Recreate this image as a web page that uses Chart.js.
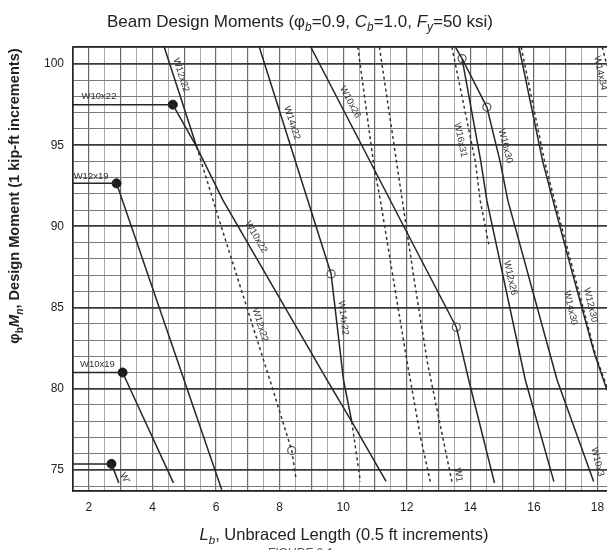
<!DOCTYPE html>
<html>
<head>
<meta charset="utf-8">
<script src="https://cdn.jsdelivr.net/npm/chart.js@4.4.1/dist/chart.umd.min.js"></script>
<style>
  body { margin: 0; background: #fff; }
  #chart { display: block; }
</style>
</head>
<body>
<canvas id="chart" width="607" height="550"></canvas>
<script>
// points are [Lb (ft), phiMn (kip-ft)]
const lbTicks = [2, 4, 6, 8, 10, 12, 14, 16, 18];
const momentTicks = [75, 80, 85, 90, 95, 100];

// leaders from the axis to the Lp dots
const W10x22_lead = [[1.5, 97.5], [4.64, 97.5]];
const W12x19_lead = [[1.5, 92.65], [2.87, 92.65]];
const W10x19_lead = [[1.5, 81.0], [3.06, 81.0]];
const W8_lead = [[1.5, 75.37], [2.71, 75.37]];

// solid (lightest section) parts
const W10x22 = [[4.64, 97.5], [5.39, 94.9], [6.22, 91.6], [9.49, 80.54], [10.27, 77.97], [11.35, 74.3]];
const W12x22_top = [[4.37, 101.05], [5.39, 94.9]];
const W12x19 = [[2.87, 92.65], [6.18, 73.77]];
const W10x19 = [[3.06, 81.0], [4.66, 74.2]];
const W8 = [[2.71, 75.37], [2.94, 74.2]];
const W14x22_top = [[7.36, 101.05], [9.62, 87.07], [10.01, 80.54], [10.27, 77.97]];
const W10x26 = [[8.98, 101.05], [11.88, 90.1], [13.56, 83.79], [13.95, 80.54], [14.76, 74.2]];
const W10x30 = [[13.53, 101.05], [13.74, 100.34], [14.52, 97.35], [14.94, 93.97], [15.18, 91.6], [16.73, 80.54], [17.88, 74.28]];
const W12x26 = [[13.74, 100.34], [14.33, 94.0], [14.52, 91.6], [15.73, 80.54], [16.63, 74.28]];
const W14x30 = [[15.53, 101.05], [16.28, 93.97], [16.6, 91.6], [17.2, 87.2], [17.9, 82.2], [18.3, 79.9]];

// dashed parts
const W12x22_low = [[5.39, 94.9], [6.13, 90.2], [7.7, 80.5], [8.38, 76.2], [8.52, 74.4]];
const W14x22_low = [[10.27, 77.97], [10.54, 74.28]];
const dashA = [[10.46, 101.05], [10.97, 93.7], [11.17, 91.6], [11.6, 86.5], [12.0, 81.77], [12.43, 77.05], [12.74, 74.28]];
const dashB = [[11.14, 101.05], [11.86, 91.6], [12.25, 86.5], [12.66, 81.5], [13.42, 74.28]];
const W16x31 = [[13.42, 101.05], [14.16, 93.97], [14.31, 91.6], [14.58, 88.9]];
const W12x30 = [[15.6, 101.05], [16.34, 93.97], [16.65, 91.6], [17.25, 87.2], [17.95, 82.0], [18.3, 80.1]];
const W14x34 = [[18.15, 101.05], [18.3, 99.9]];

// Lp (filled) and Lr (open) markers
const lpPoints = [[4.64, 97.5], [2.87, 92.65], [3.06, 81.0], [2.71, 75.37]];
const lrPoints = [[8.38, 76.2], [9.62, 87.07], [13.56, 83.79], [13.74, 100.34], [14.52, 97.35]];

// section labels: text, Lb, phiMn, angle (deg)
const curveLabels = [
  ['W10x22', 1.77, 98.0, 0],
  ['W12x19', 1.52, 93.06, 0],
  ['W10x19', 1.72, 81.47, 0],
  ['W12x22', 4.9, 99.32, 72],
  ['W14x22', 8.39, 96.37, 72],
  ['W10x26', 10.22, 97.66, 62],
  ['W16x31', 13.69, 95.32, 78],
  ['W10x30', 15.1, 94.95, 76],
  ['W14x34', 18.09, 99.45, 78],
  ['W10x22', 7.26, 89.35, 60],
  ['W12x22', 7.39, 83.93, 73],
  ['W14x22', 10.0, 84.36, 83],
  ['W12x26', 15.26, 86.82, 77],
  ['W14x30', 17.15, 84.98, 77],
  ['W12x30', 17.78, 85.16, 77],
  ['W10x3', 18.0, 75.49, 76],
  ['W1', 13.62, 74.69, 80],
  ['W\'', 3.13, 74.5, 60]
];

const LB_MIN = 1.5, LB_MAX = 18.3;
const M_MIN = 73.7, M_MAX = 101.05;

const FONT = '"Liberation Sans", Arial, sans-serif';
const isMult = (v, m) => Math.abs(v / m - Math.round(v / m)) < 1e-6;

function solid(data) {
  return { data, showLine: true, borderColor: '#262626', borderWidth: 1.5, pointRadius: 0, fill: false };
}
function dashed(data) {
  return { data, showLine: true, borderColor: '#333', borderWidth: 1.5, borderDash: [3, 3], pointRadius: 0, fill: false };
}

// grid every 0.5 ft and every 1 kip-ft
function xGridTicks() {
  const t = [];
  for (let v = LB_MIN; v <= LB_MAX + 1e-9; v += 0.5) t.push({ value: Math.round(v * 2) / 2 });
  t.push({ value: LB_MAX });
  return t;
}
function yGridTicks() {
  const t = [{ value: M_MIN }];
  for (let v = Math.ceil(M_MIN); v <= M_MAX; v += 1) t.push({ value: v });
  t.push({ value: M_MAX });
  return t;
}

// draw a run of text pieces: [text, italic, sub]
function drawRich(ctx, parts, x, y, size, weight, align) {
  const fontOf = (p) => (p[1] ? 'italic ' : '') + weight + ' ' + (p[2] ? size * 0.7 : size) + 'px ' + FONT;
  let total = 0;
  parts.forEach(p => { ctx.font = fontOf(p); total += ctx.measureText(p[0]).width; });
  let cx = align === 'center' ? x - total / 2 : x;
  ctx.textAlign = 'left';
  ctx.textBaseline = 'alphabetic';
  parts.forEach(p => {
    ctx.font = fontOf(p);
    ctx.fillText(p[0], cx, p[2] ? y + size * 0.25 : y);
    cx += ctx.measureText(p[0]).width;
  });
}

const textPlugin = {
  id: 'textPlugin',
  afterDraw(chart) {
    const ctx = chart.ctx;
    const xs = chart.scales.x, ys = chart.scales.y;
    ctx.save();
    ctx.fillStyle = '#222';

    // title
    drawRich(ctx, [['Beam Design Moments (\u03c6', 0, 0], ['b', 1, 1], ['=0.9, ', 0, 0], ['C', 1, 0], ['b', 1, 1],
      ['=1.0, ', 0, 0], ['F', 1, 0], ['y', 1, 1], ['=50 ksi)', 0, 0]], 300, 27, 17, 'normal', 'center');

    // x title
    drawRich(ctx, [['L', 1, 0], ['b', 1, 1], [', Unbraced Length (0.5 ft increments)', 0, 0]], 344, 540, 16.5, 'normal', 'center');

    // y title
    ctx.save();
    ctx.translate(19, 196);
    ctx.rotate(-Math.PI / 2);
    drawRich(ctx, [['\u03c6', 0, 0], ['b', 0, 1], ['M', 1, 0], ['n', 1, 1], [', Design Moment (1 kip-ft increments)', 0, 0]], 0, 0, 14.6, 'bold', 'center');
    ctx.restore();

    // figure caption, cut by the page edge
    ctx.font = 'italic 12px ' + FONT;
    ctx.textAlign = 'center';
    ctx.fillStyle = '#555';
    ctx.fillText('FIGURE 2.1', 300, 557);

    // section labels
    ctx.fillStyle = '#333';
    ctx.font = '9.5px ' + FONT;
    ctx.textBaseline = 'middle';
    curveLabels.forEach(([t, lb, m, ang]) => {
      const px = xs.getPixelForValue(lb), py = ys.getPixelForValue(m);
      ctx.save();
      ctx.translate(px, py);
      ctx.rotate(ang * Math.PI / 180);
      ctx.textAlign = ang === 0 ? 'left' : 'center';
      ctx.fillText(t, 0, 0);
      ctx.restore();
    });
    ctx.restore();
  }
};

new Chart(document.getElementById('chart'), {
  type: 'scatter',
  data: {
    datasets: [
      solid(W10x22_lead), solid(W12x19_lead), solid(W10x19_lead), solid(W8_lead),
      solid(W10x22), solid(W12x22_top), solid(W12x19), solid(W10x19), solid(W8),
      solid(W14x22_top), solid(W10x26), solid(W10x30), solid(W12x26), solid(W14x30),
      dashed(W12x22_low), dashed(W14x22_low), dashed(dashA), dashed(dashB),
      dashed(W16x31), dashed(W12x30), dashed(W14x34),
      { data: lpPoints, showLine: false, pointRadius: 4.5, pointBackgroundColor: '#1a1a1a', pointBorderColor: '#1a1a1a', pointBorderWidth: 1 },
      { data: lrPoints, showLine: false, pointRadius: 4, pointBackgroundColor: '#fff', pointBorderColor: '#555', pointBorderWidth: 1.2 }
    ]
  },
  options: {
    responsive: false,
    animation: false,
    layout: { autoPadding: false, padding: { top: 47, left: 0, right: 0, bottom: 0 } },
    plugins: { legend: { display: false }, tooltip: { enabled: false }, title: { display: false } },
    scales: {
      x: {
        type: 'linear', min: LB_MIN, max: LB_MAX,
        afterBuildTicks: (s) => { s.ticks = xGridTicks(); },
        afterFit: (s) => { s.height = 59; s.paddingLeft = 0; s.paddingRight = 0; },
        border: { display: true, color: '#222', width: 1.5 },
        grid: {
          drawTicks: false,
          color: (c) => isMult(c.tick.value, 1) ? '#6a6a6a' : '#a8a8a8',
          lineWidth: (c) => isMult(c.tick.value, 1) ? 1.2 : 1
        },
        ticks: {
          autoSkip: false, maxRotation: 0, padding: 9,
          color: '#222', font: { family: FONT, size: 12 },
          callback: (v) => lbTicks.includes(v) ? String(v) : ''
        }
      },
      y: {
        type: 'linear', min: M_MIN, max: M_MAX,
        afterBuildTicks: (s) => { s.ticks = yGridTicks(); },
        afterFit: (s) => { s.width = 73; s.paddingTop = 0; s.paddingBottom = 0; },
        border: { display: true, color: '#222', width: 1.5 },
        grid: {
          drawTicks: false,
          color: (c) => {
            const v = c.tick.value;
            if (v > 101) return '#222';
            return isMult(v, 5) ? '#3a3a3a' : '#7a7a7a';
          },
          lineWidth: (c) => {
            const v = c.tick.value;
            if (v > 101) return 1.5;
            return isMult(v, 5) ? 1.8 : 1;
          }
        },
        ticks: {
          autoSkip: false, padding: 9,
          color: '#222', font: { family: FONT, size: 12 },
          callback: (v) => momentTicks.includes(v) ? String(v) : ''
        }
      }
    }
  },
  plugins: [textPlugin]
});
</script>
</body>
</html>
